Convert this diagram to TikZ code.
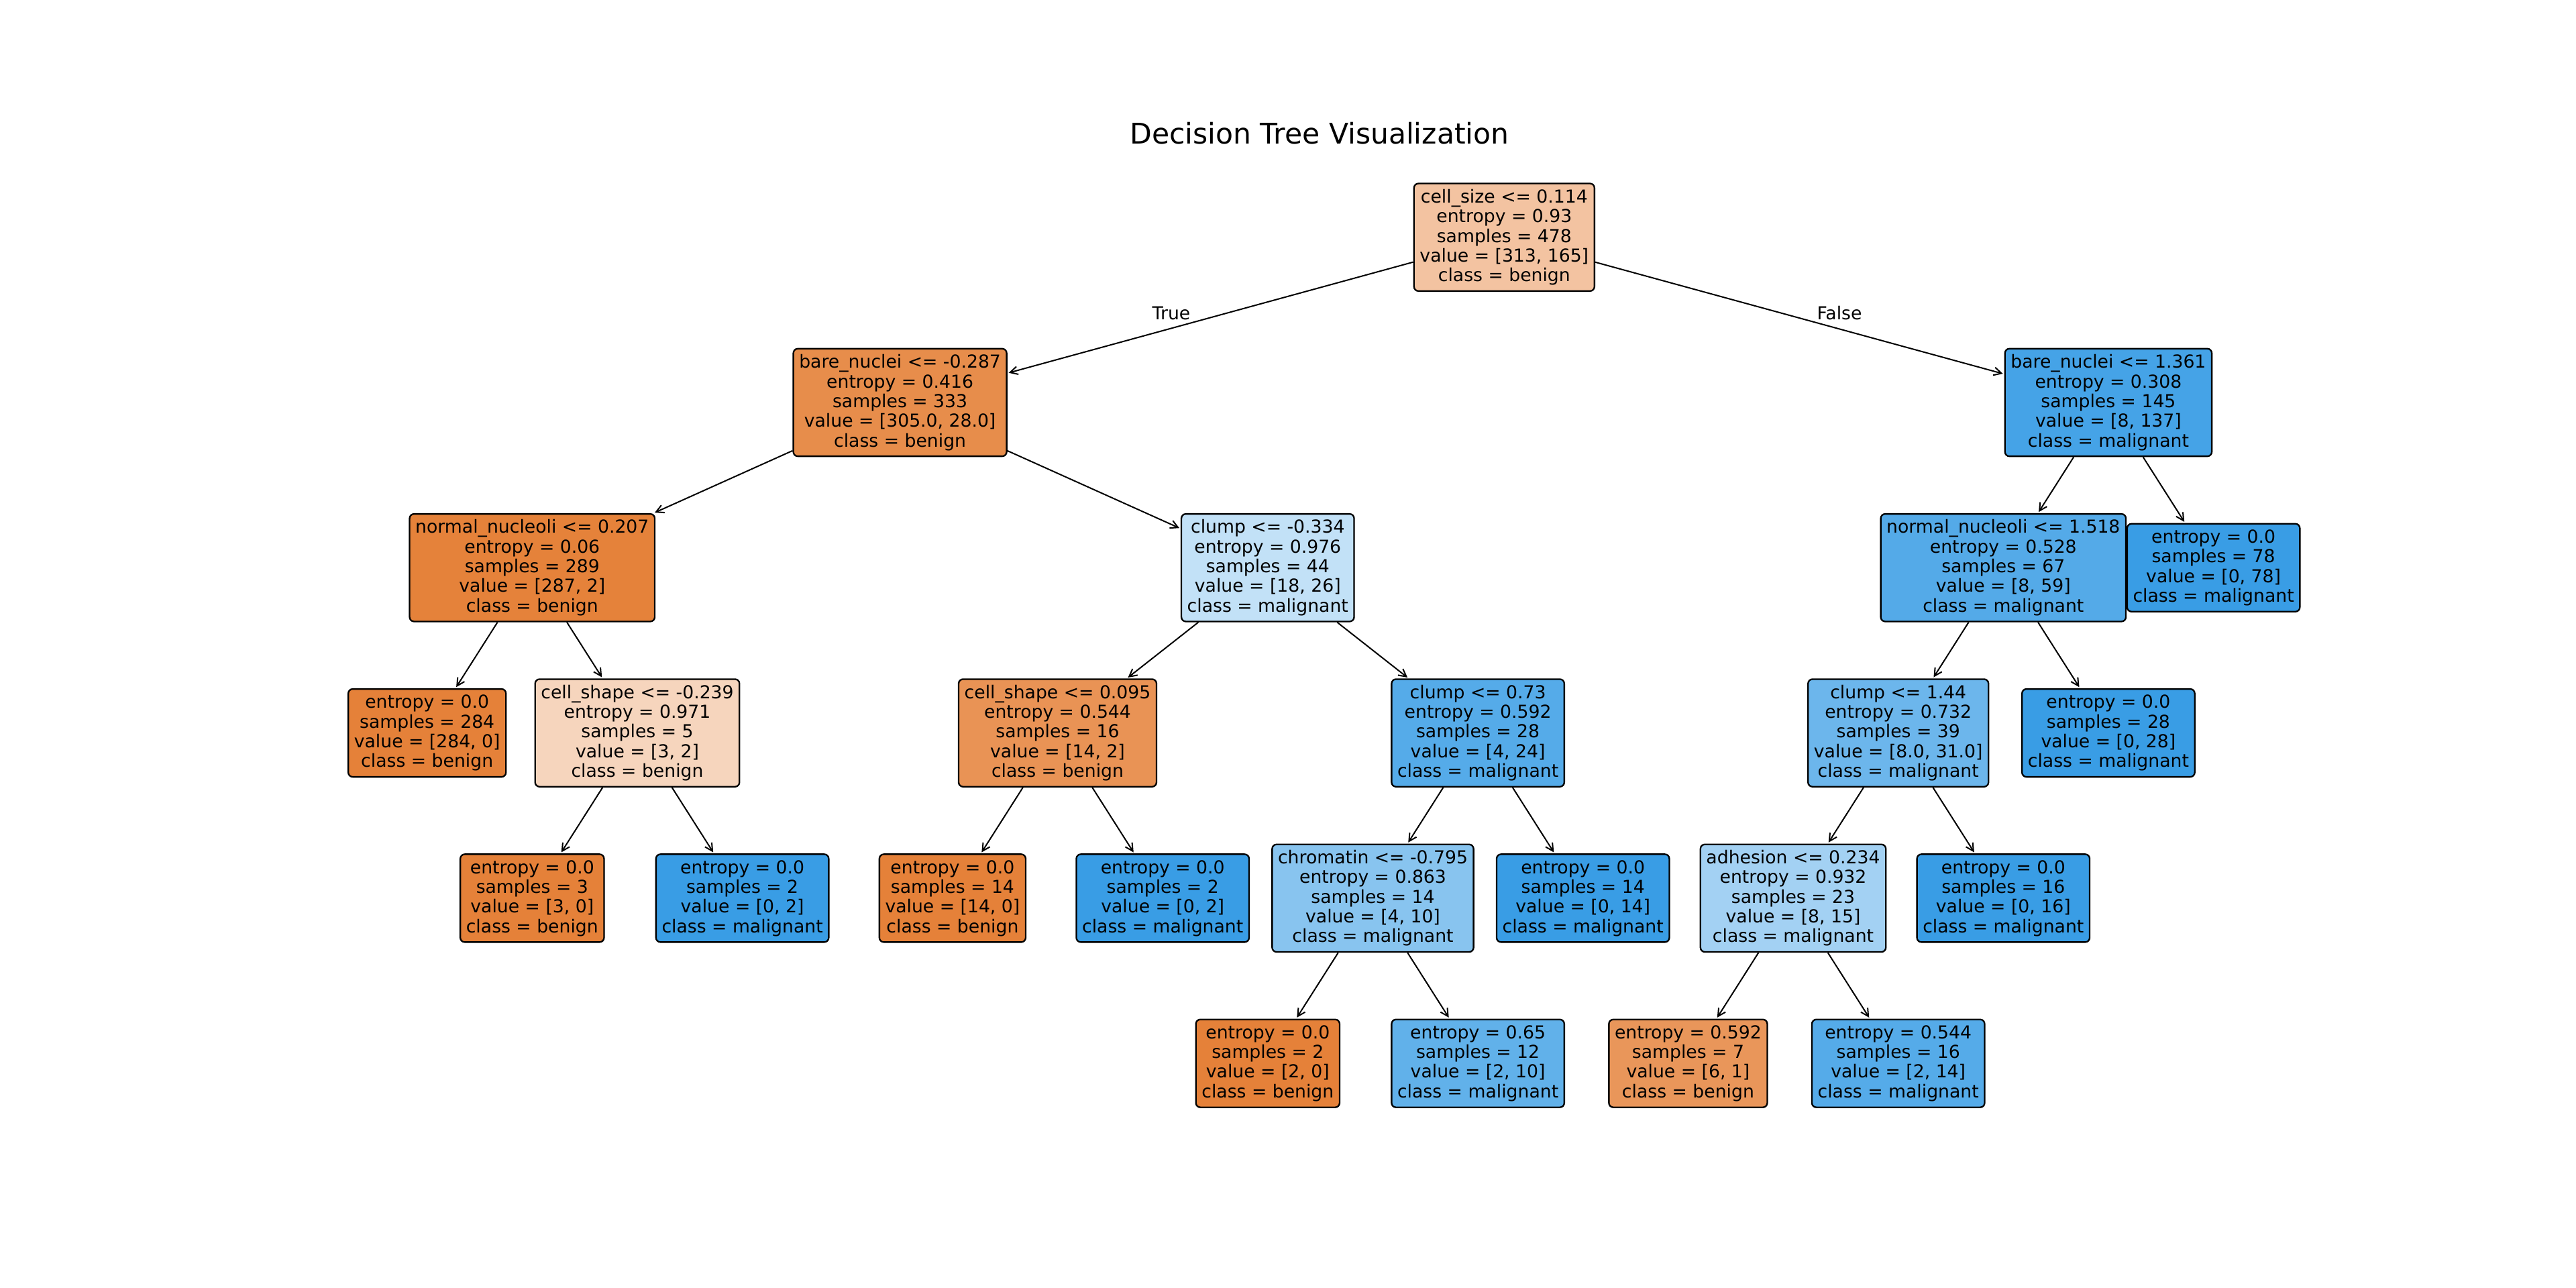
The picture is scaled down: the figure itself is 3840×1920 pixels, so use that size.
\documentclass[tikz,border=0pt]{standalone}
\usepackage{fontspec}
\setmainfont{DejaVu Sans}
\usetikzlibrary{arrows.meta}
\definecolor{cA}{RGB}{243,195,161}
\definecolor{cB}{RGB}{231,141,75}
\definecolor{cC}{RGB}{69,163,231}
\definecolor{cD}{RGB}{229,130,58}
\definecolor{cE}{RGB}{194,225,247}
\definecolor{cF}{RGB}{84,170,232}
\definecolor{cG}{RGB}{246,213,189}
\definecolor{cH}{RGB}{233,147,85}
\definecolor{cI}{RGB}{85,171,233}
\definecolor{cJ}{RGB}{108,182,236}
\definecolor{cK}{RGB}{136,196,239}
\definecolor{cL}{RGB}{163,209,243}
\definecolor{cM}{RGB}{97,177,234}
\definecolor{cN}{RGB}{233,150,90}
\definecolor{benignc}{RGB}{229,129,57}
\definecolor{malig}{RGB}{57,157,229}
\tikzset{
  tbox/.style={draw=black, line width=0.7pt, rounded corners=2pt, align=center,
    inner xsep=2.6pt, inner ysep=2pt, font=\fontsize{8}{8.8}\selectfont},
  splitbox/.style={tbox, minimum height=48.1pt},
  leafbox/.style={tbox, minimum height=39.3pt},
  conn/.style={line width=0.6pt, -{Straight Barb[length=3.4pt,width=3.6pt,line width=0.6pt]}, shorten >=0.6pt},
  edgelabel/.style={anchor=base, inner sep=0pt, font=\fontsize{8}{9.6}\selectfont}
}
\begin{document}
\begin{tikzpicture}[x=0.3pt,y=-0.3pt]
\useasboundingbox (0,0) rectangle (3840,1920);
\node[anchor=base, inner sep=0pt, font=\fontsize{12.75}{15}\selectfont] (title) at (1967,215) {Decision Tree Visualization};
% level 0
\node[splitbox, fill=cA] (n0) at (2242.3,353.7) {cell\_size <= 0.114\\entropy = 0.93\\samples = 478\\value = [313, 165]\\class = benign};
% level 1
\node[splitbox, fill=cB] (n1) at (1341.6,600.0) {bare\_nuclei <= -0.287\\entropy = 0.416\\samples = 333\\value = [305.0, 28.0]\\class = benign};
\node[splitbox, fill=cC] (n2) at (3142.9,600.0) {bare\_nuclei <= 1.361\\entropy = 0.308\\samples = 145\\value = [8, 137]\\class = malignant};
% level 2
\node[splitbox, fill=cD] (n3) at (793.3,846.3) {normal\_nucleoli <= 0.207\\entropy = 0.06\\samples = 289\\value = [287, 2]\\class = benign};
\node[splitbox, fill=cE] (n4) at (1889.8,846.3) {clump <= -0.334\\entropy = 0.976\\samples = 44\\value = [18, 26]\\class = malignant};
\node[splitbox, fill=cF] (n5) at (2986.3,846.3) {normal\_nucleoli <= 1.518\\entropy = 0.528\\samples = 67\\value = [8, 59]\\class = malignant};
\node[leafbox, fill=malig] (n6) at (3299.6,846.3) {entropy = 0.0\\samples = 78\\value = [0, 78]\\class = malignant};
% level 3
\node[leafbox, fill=benignc] (n7) at (636.7,1092.6) {entropy = 0.0\\samples = 284\\value = [284, 0]\\class = benign};
\node[splitbox, fill=cG] (n8) at (950.0,1092.6) {cell\_shape <= -0.239\\entropy = 0.971\\samples = 5\\value = [3, 2]\\class = benign};
\node[splitbox, fill=cH] (n9) at (1576.5,1092.6) {cell\_shape <= 0.095\\entropy = 0.544\\samples = 16\\value = [14, 2]\\class = benign};
\node[splitbox, fill=cI] (n10) at (2203.1,1092.6) {clump <= 0.73\\entropy = 0.592\\samples = 28\\value = [4, 24]\\class = malignant};
\node[splitbox, fill=cJ] (n11) at (2829.7,1092.6) {clump <= 1.44\\entropy = 0.732\\samples = 39\\value = [8.0, 31.0]\\class = malignant};
\node[leafbox, fill=malig] (n12) at (3142.9,1092.6) {entropy = 0.0\\samples = 28\\value = [0, 28]\\class = malignant};
% level 4
\node[leafbox, fill=benignc] (n13) at (793.3,1338.9) {entropy = 0.0\\samples = 3\\value = [3, 0]\\class = benign};
\node[leafbox, fill=malig] (n14) at (1106.6,1338.9) {entropy = 0.0\\samples = 2\\value = [0, 2]\\class = malignant};
\node[leafbox, fill=benignc] (n15) at (1419.9,1338.9) {entropy = 0.0\\samples = 14\\value = [14, 0]\\class = benign};
\node[leafbox, fill=malig] (n16) at (1733.2,1338.9) {entropy = 0.0\\samples = 2\\value = [0, 2]\\class = malignant};
\node[splitbox, fill=cK] (n17) at (2046.5,1338.9) {chromatin <= -0.795\\entropy = 0.863\\samples = 14\\value = [4, 10]\\class = malignant};
\node[leafbox, fill=malig] (n18) at (2359.7,1338.9) {entropy = 0.0\\samples = 14\\value = [0, 14]\\class = malignant};
\node[splitbox, fill=cL] (n19) at (2673.0,1338.9) {adhesion <= 0.234\\entropy = 0.932\\samples = 23\\value = [8, 15]\\class = malignant};
\node[leafbox, fill=malig] (n20) at (2986.3,1338.9) {entropy = 0.0\\samples = 16\\value = [0, 16]\\class = malignant};
% level 5
\node[leafbox, fill=benignc] (n21) at (1889.8,1585.2) {entropy = 0.0\\samples = 2\\value = [2, 0]\\class = benign};
\node[leafbox, fill=cM] (n22) at (2203.1,1585.2) {entropy = 0.65\\samples = 12\\value = [2, 10]\\class = malignant};
\node[leafbox, fill=cN] (n23) at (2516.4,1585.2) {entropy = 0.592\\samples = 7\\value = [6, 1]\\class = benign};
\node[leafbox, fill=cI] (n24) at (2829.7,1585.2) {entropy = 0.544\\samples = 16\\value = [2, 14]\\class = malignant};
% connectors
\draw[conn] (n0) -- (n1);
\draw[conn] (n0) -- (n2);
\draw[conn] (n1) -- (n3);
\draw[conn] (n1) -- (n4);
\draw[conn] (n2) -- (n5);
\draw[conn] (n2) -- (n6);
\draw[conn] (n3) -- (n7);
\draw[conn] (n3) -- (n8);
\draw[conn] (n4) -- (n9);
\draw[conn] (n4) -- (n10);
\draw[conn] (n5) -- (n11);
\draw[conn] (n5) -- (n12);
\draw[conn] (n8) -- (n13);
\draw[conn] (n8) -- (n14);
\draw[conn] (n9) -- (n15);
\draw[conn] (n9) -- (n16);
\draw[conn] (n10) -- (n17);
\draw[conn] (n10) -- (n18);
\draw[conn] (n11) -- (n19);
\draw[conn] (n11) -- (n20);
\draw[conn] (n17) -- (n21);
\draw[conn] (n17) -- (n22);
\draw[conn] (n19) -- (n23);
\draw[conn] (n19) -- (n24);
% edge labels
\node[edgelabel] (ltrue) at (1746,477) {True};
\node[edgelabel] (lfalse) at (2742,477) {False};
\end{tikzpicture}
\end{document}
